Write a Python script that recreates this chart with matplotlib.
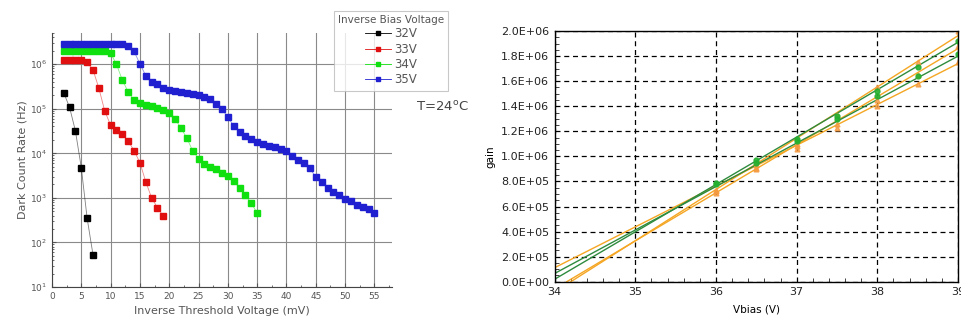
import numpy as np
import matplotlib.pyplot as plt
from matplotlib.ticker import MultipleLocator, LogLocator, NullFormatter, FuncFormatter

# ---- left panel: dark count rate vs threshold ----
x32 = [2, 3, 4, 5, 6, 7]
dcr32 = [2.3e5, 1.08e5, 3.2e4, 4.8e3, 350, 53]

x33 = list(range(2, 20))
dcr33 = [1.25e6, 1.25e6, 1.25e6, 1.25e6, 1.1e6, 7.5e5, 2.9e5, 8.9e4, 4.3e4,
         3.3e4, 2.7e4, 1.9e4, 1.15e4, 6.2e3, 2.3e3, 1.0e3, 600, 390]

x34 = list(range(2, 36))
dcr34 = [2.0e6, 2.0e6, 2.0e6, 2.0e6, 2.0e6, 2.0e6, 2.0e6, 2.0e6, 1.77e6, 1.0e6,
         4.4e5, 2.4e5, 1.55e5, 1.37e5, 1.2e5, 1.13e5, 1.05e5, 9.3e4, 8.2e4, 5.9e4,
         3.7e4, 2.2e4, 1.14e4, 7.6e3, 5.7e3, 5.0e3, 4.4e3, 3.7e3, 3.1e3, 2.35e3,
         1.66e3, 1.14e3, 770, 450]

x35 = list(range(2, 56))
dcr35 = [2.8e6, 2.8e6, 2.85e6, 2.85e6, 2.85e6, 2.85e6, 2.9e6, 2.9e6, 2.9e6, 2.9e6,
         2.8e6, 2.6e6, 1.93e6, 1.03e6, 5.5e5, 4.0e5, 3.5e5, 2.9e5, 2.6e5, 2.55e5,
         2.4e5, 2.3e5, 2.15e5, 2.0e5, 1.87e5, 1.63e5, 1.3e5, 9.7e4, 6.5e4, 4.1e4,
         3.0e4, 2.4e4, 2.06e4, 1.8e4, 1.63e4, 1.48e4, 1.38e4, 1.24e4, 1.1e4, 8.9e3,
         7.0e3, 6.2e3, 4.6e3, 2.9e3, 2.3e3, 1.67e3, 1.36e3, 1.14e3, 960, 850,
         700, 630, 550, 450]

bias_labels = ['32V', '33V', '34V', '35V']
bias_colors = ['#000000', '#e01010', '#10e010', '#2020d0']

# ---- right panel: gain vs Vbias ----
vb = [36, 36.5, 37, 37.5, 38, 38.5, 39]
gain_g1 = [7.9e5, 9.7e5, 1.14e6, 1.32e6, 1.52e6, 1.71e6, 1.92e6]
gain_g2 = [7.8e5, 9.5e5, 1.12e6, 1.30e6, 1.48e6, 1.64e6, 1.82e6]
gain_o1 = [7.3e5, 9.3e5, 1.10e6, 1.33e6, 1.55e6, 1.75e6, 2.0e6]
gain_o2 = [7.1e5, 9.0e5, 1.06e6, 1.23e6, 1.40e6, 1.58e6, 1.75e6]
gain_o3 = [7.2e5, 9.1e5, 1.08e6, 1.26e6, 1.45e6, 1.65e6, 1.88e6]

# fitted lines, end points
fit_g1 = ([34, 39], [0.2e5, 1.91e6])
fit_g2 = ([34, 39], [0.66e5, 1.80e6])
fit_o1 = ([34.2, 39], [0, 1.963e6])
fit_o2 = ([34, 39], [1.12e5, 1.74e6])
fit_o3 = ([34.15, 39], [0, 1.86e6])

fig = plt.figure(figsize=(9.62, 3.27), dpi=100)

# LEFT
ax1 = fig.add_axes([0.054, 0.1223, 0.3535, 0.7767])
for xs, ys, lab, col in zip([x32, x33, x34, x35], [dcr32, dcr33, dcr34, dcr35],
                            bias_labels, bias_colors):
    ax1.plot(xs, ys, '-', color=col, lw=0.6, alpha=0.5)
    ax1.plot(xs, ys, 's', color=col, ms=4.2, mec=col, label=lab)
ax1.set_yscale('log')
ax1.set_xlim(0, 58)
ax1.set_ylim(10, 5e6)
ax1.xaxis.set_major_locator(MultipleLocator(5))
ax1.xaxis.set_minor_locator(MultipleLocator(2.5))
ax1.yaxis.set_major_locator(LogLocator(base=10, numticks=10))
ax1.yaxis.set_minor_locator(LogLocator(base=10, subs=np.arange(2, 10), numticks=10))
ax1.yaxis.set_minor_formatter(NullFormatter())
ax1.grid(True, which='major', color='#8a8a8a', lw=0.8)
ax1.set_axisbelow(True)
for s in ['top', 'right']:
    ax1.spines[s].set_visible(False)
for s in ['left', 'bottom']:
    ax1.spines[s].set_color('#444444')
ax1.tick_params(which='both', direction='in', colors='#555555', labelsize=6.5)
ax1.tick_params(which='major', length=3)
ax1.tick_params(which='minor', length=1.5)
ax1.set_xlabel('Inverse Threshold Voltage (mV)', color='#555555', fontsize=8, labelpad=4)
ax1.set_ylabel('Dark Count Rate (Hz)', color='#555555', fontsize=8, labelpad=2)

handles = [plt.Line2D([], [], color=c, lw=0.6, marker='s', ms=3.4, mec=c, mfc=c)
           for c in bias_colors]
leg = fig.legend(handles, bias_labels, title='Inverse Bias Voltage',
                 loc='upper left', bbox_to_anchor=(0.341, 0.985),
                 fontsize=8.5, title_fontsize=7.5, frameon=True, fancybox=False,
                 handlelength=2.2, handletextpad=0.3, labelspacing=0.2,
                 borderpad=0.35, labelcolor='#555555')
leg.get_frame().set_edgecolor('#bbbbbb')
leg.get_frame().set_linewidth(0.8)
leg.get_title().set_color('#555555')

fig.text(0.46, 0.673, r'T=24$^{\rm o}$C', fontsize=9.5, color='#444444',
         ha='center', va='center')

# RIGHT
ax2 = fig.add_axes([0.5766, 0.1385, 0.4192, 0.7665])
ax2.plot(*fit_o1, color='#f5a623', lw=1.0)
ax2.plot(*fit_o3, color='#f5a623', lw=1.0)
ax2.plot(*fit_o2, color='#f5a623', lw=1.0)
ax2.plot(*fit_g2, color='#2e8b3e', lw=1.0)
ax2.plot(*fit_g1, color='#2e8b3e', lw=1.0)
for g in [gain_o1, gain_o2, gain_o3]:
    ax2.plot(vb, g, '^', color='#f59a40', ms=3.5, alpha=0.8)
for g in [gain_g1, gain_g2]:
    ax2.plot(vb, g, 'o', color='#25b030', ms=3.5, alpha=0.9)
ax2.set_xlim(34, 39)
ax2.set_ylim(0, 2.0e6)
ax2.xaxis.set_major_locator(MultipleLocator(1))
ax2.xaxis.set_minor_locator(MultipleLocator(0.2))
ax2.yaxis.set_major_locator(MultipleLocator(2e5))
ax2.yaxis.set_minor_locator(MultipleLocator(5e4))
ax2.yaxis.set_major_formatter(FuncFormatter(
    lambda v, p: '%.1fE+%02d' % (v / 10 ** (int(np.floor(np.log10(v))) if v > 0 else 0),
                                  int(np.floor(np.log10(v))) if v > 0 else 0)))
ax2.grid(True, which='major', color='black', ls=(0, (4, 3)), lw=0.9)
ax2.tick_params(which='both', direction='in', colors='#222222', labelsize=8)
ax2.tick_params(which='major', length=0, pad=4)
ax2.tick_params(which='minor', length=3)
for s in ax2.spines.values():
    s.set_linewidth(1.0)
ax2.set_xlabel('Vbias (V)', fontsize=7.5, labelpad=5)
ax2.set_ylabel('gain', fontsize=7.5, labelpad=4)

fig.savefig('out.png', dpi=100)
